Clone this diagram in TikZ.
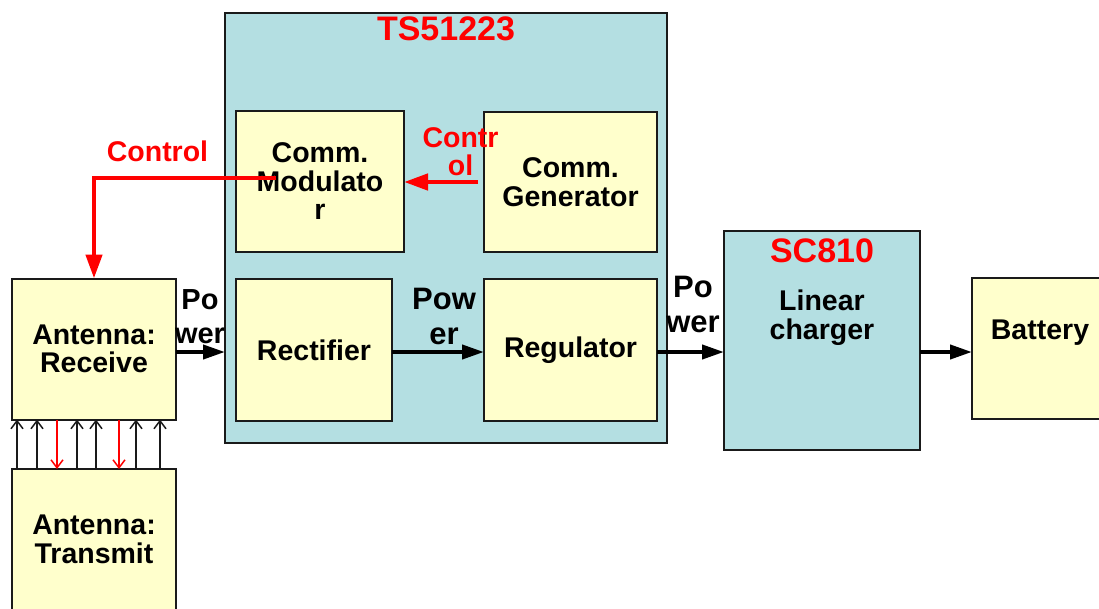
\documentclass[tikz,border=0pt]{standalone}
\usepackage{fontspec}
\setmainfont{Liberation Sans}
\usetikzlibrary{arrows.meta}
\definecolor{ylw}{HTML}{FFFFCC}
\definecolor{lblue}{HTML}{B4DFE2}
\definecolor{edge}{HTML}{1A1A1A}
\begin{document}
\begin{tikzpicture}[x=1pt,y=-1pt,
  boxline/.style={draw=edge,line width=2pt,inner sep=0pt,outer sep=0pt},
  ybox/.style={boxline,fill=ylw,font=\fontsize{28.5}{28.5}\selectfont\bfseries,align=center},
  bbox/.style={boxline,fill=lblue},
  lbl/.style={font=\fontsize{28.5}{28.5}\selectfont\bfseries,align=center,inner sep=0pt},
  plbl/.style={font=\fontsize{29}{34}\selectfont\bfseries,align=center,inner sep=0pt,anchor=north},
  plblb/.style={font=\fontsize{31}{35}\selectfont\bfseries,align=center,inner sep=0pt,anchor=north},
  rlbl/.style={lbl,text=red,anchor=north},
  ttl/.style={font=\fontsize{34}{34}\selectfont\bfseries,text=red,inner sep=0pt,anchor=north},
  pwr/.style={draw=black,line width=4pt,-{Triangle[length=22pt,width=14pt]}},
  ctl/.style={draw=red,line width=4.5pt,-{Triangle[length=24pt,width=16pt]}},
  thinar/.style={line width=1.5pt,-{Straight Barb[length=8pt,width=12pt]}},
]
\useasboundingbox (0,0) rectangle (1099,608);

% outer blocks
\node[bbox,minimum width=442pt,minimum height=430pt] (ts) at (446,228) {};
\node[bbox,minimum width=196pt,minimum height=219pt] (sc) at (822,340.5) {};

% inner and other blocks
\node[ybox,minimum width=164pt,minimum height=141pt] (recv) at (94,349) {Antenna:\\Receive};
\node[ybox,minimum width=164pt,minimum height=141pt] (trans) at (94,539.5) {Antenna:\\Transmit};
\node[ybox,minimum width=168pt,minimum height=141pt] (mod) at (320,181.5) {Comm.\\Modulato\\r};
\node[ybox,minimum width=173pt,minimum height=140pt] (gen) at (570.5,182) {Comm.\\Generator};
\node[ybox,minimum width=156pt,minimum height=142pt] (rect) at (314,350) {Rectifier};
\node[ybox,minimum width=173pt,minimum height=142pt] (reg) at (570.5,350) {Regulator};
\node[ybox,minimum width=138pt,minimum height=141pt] (bat) at (1041,348.5) {};

% titles and labels
\node[ttl] (tstitle) at (446,17) {TS51223};
\node[ttl] (sctitle) at (822,239) {SC810};
\node[lbl,anchor=north] (lin) at (822,290) {Linear\\charger};
\node[lbl] (batl) at (1040,333) {Battery};

% power arrows
\coordinate (pwy) at (0,352);
\draw[pwr] (recv.east |- pwy) -- (ts.west |- pwy);
\draw[pwr] (rect.east |- pwy) -- (reg.west |- pwy);
\draw[pwr] (reg.east |- pwy) -- (sc.west |- pwy);
\draw[pwr] (sc.east |- pwy) -- (bat.west |- pwy);
\node[plbl] (p1) at (200,289) {Po\\wer};
\node[plblb] (p2) at (444,288) {Pow\\er};
\node[plblb] (p3) at (693,276) {Po\\wer};

% control arrows
\coordinate (cstart) at (276,178);
\draw[ctl] (cstart) -| (recv.north);
\node[rlbl] (c1) at (157.5,141) {Control};
\coordinate (gstart) at (478,182);
\draw[ctl] (gstart) -- (mod.east |- gstart);
\node[rlbl] (c2) at (460.5,127) {Contr\\ol};

% antenna link arrows
\foreach \x [count=\i] in {17,37,77,96,136,160}{
  \coordinate (u\i) at (\x,0);
  \draw[thinar,draw=edge] (trans.north -| u\i) -- (recv.south -| u\i);
}
\foreach \x [count=\i] in {57,119}{
  \coordinate (d\i) at (\x,0);
  \draw[thinar,draw=red] (recv.south -| d\i) -- (trans.north -| d\i);
}
\end{tikzpicture}
\end{document}
